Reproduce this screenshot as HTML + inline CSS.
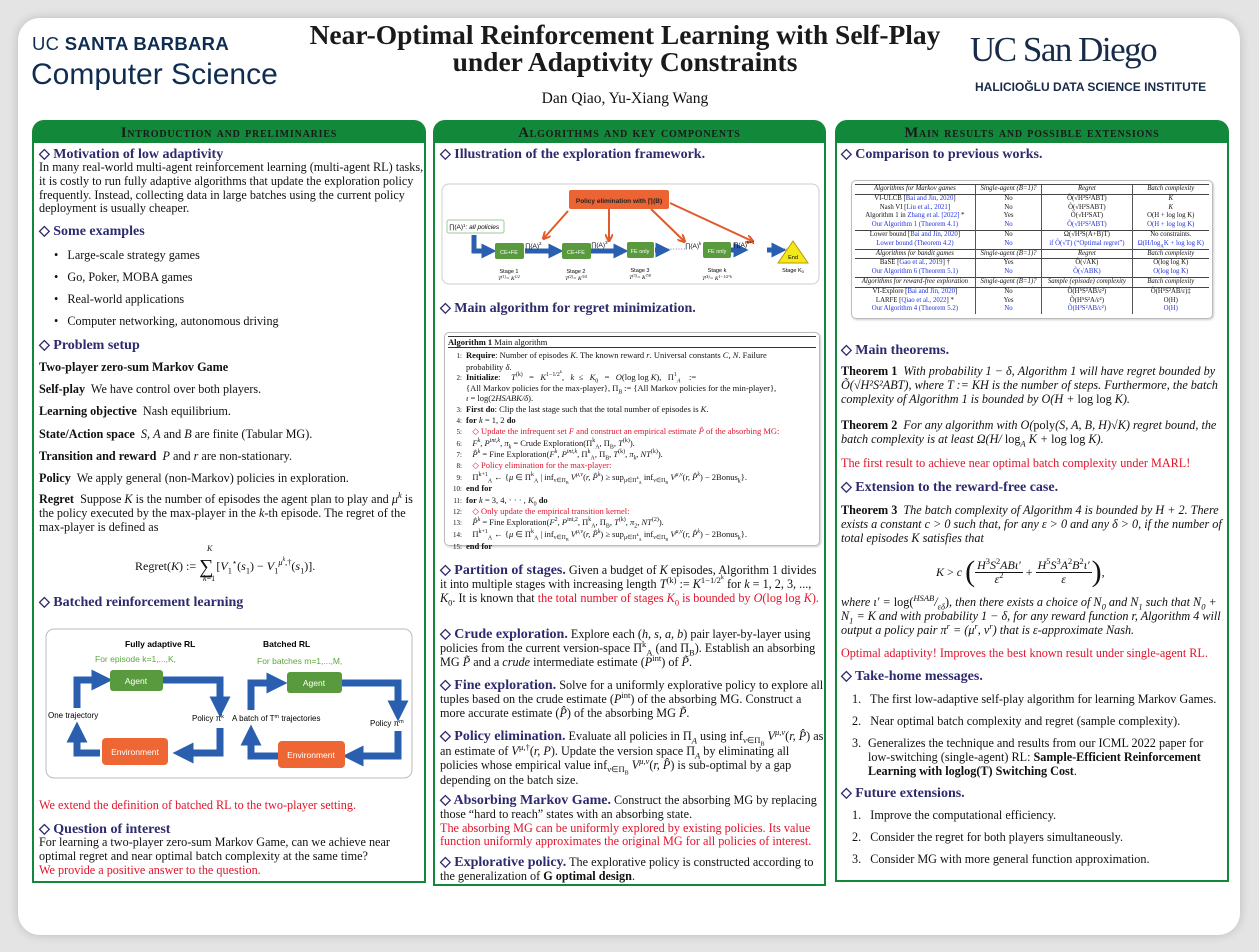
<!DOCTYPE html>
<html><head><meta charset="utf-8">
<style>
*{margin:0;padding:0;box-sizing:border-box}
body{width:1259px;height:952px;background:#e4e4e4;position:relative;overflow:hidden;font-family:"Liberation Serif",serif;color:#111}
sup,sub{line-height:0;font-size:70%}
.card{position:absolute;left:18px;top:18px;width:1222px;height:917px;background:#fff;border-radius:22px;box-shadow:0 0 10px rgba(0,0,0,.18)}
.a{position:absolute}
.col{position:absolute;top:120px;border:2px solid #11883a;border-radius:12px 12px 0 0}
.ch{position:absolute;left:0;right:0;top:0;height:21px;background:#11883a;border-radius:9px 9px 0 0;text-align:center;font-weight:bold;font-size:14.5px;line-height:22px;font-variant:small-caps;letter-spacing:.8px;color:#1a1a1a}
.h{position:absolute;font-weight:bold;font-size:14px;color:#2d2a6e;white-space:nowrap}
.p{position:absolute;font-size:12.2px;line-height:13.8px}
.r{color:#e2132b}
.b{color:#2233dd}
i{font-style:italic}
.hh{font-weight:bold;font-size:14px;color:#2d2a6e}
table{border-collapse:collapse;font-size:6.8px;width:100%}
td{padding:0 2px;text-align:center;line-height:8.8px;border-left:1px solid #555;white-space:nowrap}
td:first-child{border-left:none}
tr.hd td{font-style:italic;border-bottom:1px solid #444;border-top:1px solid #444}
.alg{font-size:8.5px;line-height:10.3px}
.alg div{white-space:nowrap}
.ln{display:inline-block;width:14px;text-align:right;margin-right:4px;font-size:7px}
</style></head><body>
<div class="card"></div>

<div class="a" style="left:32px;top:33px;font-family:'Liberation Sans',sans-serif;font-size:18.5px;color:#0f2d52;letter-spacing:.3px">UC <b>SANTA BARBARA</b></div>
<div class="a" style="left:31px;top:58px;font-family:'Liberation Sans',sans-serif;font-size:30px;color:#0f2d52">Computer Science</div>
<div class="a" style="left:240px;top:21px;width:770px;text-align:center;font-weight:bold;font-size:27.5px;line-height:27px;color:#1a1a1a">Near-Optimal Reinforcement Learning with Self-Play<br>under Adaptivity Constraints</div>
<div class="a" style="left:460px;top:90px;width:330px;text-align:center;font-size:15.5px">Dan Qiao, Yu-Xiang Wang</div>
<div class="a" style="left:970px;top:30px;font-family:'Liberation Serif',serif;font-size:35px;color:#182b49;letter-spacing:-1.5px">UC San Diego</div>
<div class="a" style="left:975px;top:80px;font-family:'Liberation Sans',sans-serif;font-weight:bold;font-size:12px;color:#182b49">HALICIOĞLU DATA SCIENCE INSTITUTE</div>

<!-- Column 1 -->
<div class="col" style="left:32px;width:394px;height:763px"><div class="ch">Introduction and preliminaries</div></div>
<div class="h" style="left:39px;top:146px">◇ Motivation of low adaptivity</div>
<div class="p" style="left:39px;top:161px;width:385px">In many real-world multi-agent reinforcement learning (multi-agent RL) tasks, it is costly to run fully adaptive algorithms that update the exploration policy frequently. Instead, collecting data in large batches using the current policy deployment is usually cheaper.</div>
<div class="h" style="left:39px;top:223px">◇ Some examples</div>
<div class="p" style="left:54px;top:249px">•&nbsp;&nbsp; Large-scale strategy games</div>
<div class="p" style="left:54px;top:271px">•&nbsp;&nbsp; Go, Poker, MOBA games</div>
<div class="p" style="left:54px;top:293px">•&nbsp;&nbsp; Real-world applications</div>
<div class="p" style="left:54px;top:315px">•&nbsp;&nbsp; Computer networking, autonomous driving</div>
<div class="h" style="left:39px;top:337px">◇ Problem setup</div>
<div class="p" style="left:39px;top:361px"><b>Two-player zero-sum Markov Game</b></div>
<div class="p" style="left:39px;top:383px"><b>Self-play</b>&nbsp; We have control over both players.</div>
<div class="p" style="left:39px;top:405px"><b>Learning objective</b>&nbsp; Nash equilibrium.</div>
<div class="p" style="left:39px;top:428px"><b>State/Action space</b>&nbsp; <i>S</i>, <i>A</i> and <i>B</i> are finite (Tabular MG).</div>
<div class="p" style="left:39px;top:450px"><b>Transition and reward</b>&nbsp; <i>P</i> and <i>r</i> are non-stationary.</div>
<div class="p" style="left:39px;top:472px"><b>Policy</b>&nbsp; We apply general (non-Markov) policies in exploration.</div>
<div class="p" style="left:39px;top:493px;width:385px"><b>Regret</b>&nbsp; Suppose <i>K</i> is the number of episodes the agent plan to play and <i>μ<sup>k</sup></i> is the policy executed by the max-player in the <i>k</i>-th episode. The regret of the max-player is defined as</div>
<div class="a" style="left:207px;top:544px;font-size:8px"><i>K</i></div>
<div class="a" style="left:135px;top:556px;font-size:12px;white-space:nowrap">Regret(<i>K</i>) := <span style="font-size:20px;vertical-align:-3px">∑</span> [<i>V</i><sub>1</sub><sup>⋆</sup>(<i>s</i><sub>1</sub>) − <i>V</i><sub>1</sub><sup><i>μ<sup>k</sup></i>,†</sup>(<i>s</i><sub>1</sub>)].</div>
<div class="a" style="left:203px;top:574px;font-size:8px"><i>k</i>=1</div>
<div class="h" style="left:39px;top:594px">◇ Batched reinforcement learning</div>
<svg class="a" style="left:45px;top:628px" width="368" height="151" viewBox="0 0 368 151">
<defs><marker id="m1" markerWidth="3" markerHeight="3" refX="1.5" refY="1.5" orient="auto"><path d="M0,0L3,1.5L0,3z" fill="#2a5fb0"/></marker></defs>
<rect x="1" y="1" width="366" height="149" rx="8" fill="#fff" stroke="#bbb"/>
<text x="80" y="19" font-family="Liberation Sans" font-weight="bold" font-size="8.5">Fully adaptive RL</text>
<text x="218" y="19" font-family="Liberation Sans" font-weight="bold" font-size="8.5">Batched RL</text>
<text x="50" y="34" font-family="Liberation Sans" font-size="8.5" fill="#5aa83a">For episode k=1,...,K,</text>
<text x="212" y="36" font-family="Liberation Sans" font-size="8.5" fill="#5aa83a">For batches m=1,...,M,</text>
<g fill="none" stroke="#2a5fb0" stroke-width="7" marker-end="url(#m1)">
<path d="M32,80V52H57"/><path d="M118,52H175V79"/><path d="M175,100V125H138"/><path d="M55,125H32V104"/>
<path d="M206,82V55H232"/><path d="M297,55H353V83"/><path d="M353,103V128H308"/><path d="M236,128H206V107"/>
</g>
<rect x="65" y="42" width="53" height="21" rx="3" fill="#5a9a3e"/><text x="91" y="56" text-anchor="middle" font-family="Liberation Sans" font-size="8.5" fill="#fff">Agent</text>
<rect x="57" y="110" width="66" height="27" rx="4" fill="#ee6633"/><text x="90" y="127" text-anchor="middle" font-family="Liberation Sans" font-size="8.5" fill="#fff">Environment</text>
<rect x="242" y="44" width="55" height="21" rx="3" fill="#5a9a3e"/><text x="269" y="58" text-anchor="middle" font-family="Liberation Sans" font-size="8.5" fill="#fff">Agent</text>
<rect x="233" y="113" width="67" height="27" rx="4" fill="#ee6633"/><text x="266" y="130" text-anchor="middle" font-family="Liberation Sans" font-size="8.5" fill="#fff">Environment</text>
<text x="3" y="90" font-family="Liberation Sans" font-size="8">One trajectory</text>
<text x="147" y="93" font-family="Liberation Sans" font-size="8">Policy π<tspan font-size="5.5" dy="-3">k</tspan></text>
<text x="187" y="93" font-family="Liberation Sans" font-size="8">A batch of T<tspan font-size="5.5" dy="-3">m</tspan><tspan dy="3"> trajectories</tspan></text>
<text x="325" y="98" font-family="Liberation Sans" font-size="8">Policy π<tspan font-size="5.5" dy="-3">m</tspan></text>
</svg>
<div class="p r" style="left:39px;top:799px">We extend the definition of batched RL to the two-player setting.</div>
<div class="h" style="left:39px;top:821px">◇ Question of interest</div>
<div class="p" style="left:39px;top:836px;width:385px">For learning a two-player zero-sum Markov Game, can we achieve near optimal regret and near optimal batch complexity at the same time?<br><span class="r">We provide a positive answer to the question.</span></div>

<!-- Column 2 -->
<div class="col" style="left:433px;width:393px;height:766px"><div class="ch">Algorithms and key components</div></div>
<div class="h" style="left:440px;top:146px">◇ Illustration of the exploration framework.</div>
<svg class="a" style="left:441px;top:183px" width="380" height="103" viewBox="0 0 380 103">
<defs><marker id="m2" markerWidth="3" markerHeight="3" refX="1.5" refY="1.5" orient="auto"><path d="M0,0L3,1.5L0,3z" fill="#2a5fb0"/></marker>
<marker id="m3" markerWidth="4" markerHeight="4" refX="3" refY="2" orient="auto"><path d="M0,0L4,2L0,4" fill="none" stroke="#e05a2a"/></marker></defs>
<rect x="1" y="1" width="377" height="100" rx="7" fill="#fff" stroke="#ccc"/>
<g stroke="#e05a2a" stroke-width="2" marker-end="url(#m3)" fill="none">
<path d="M127,28L103,55"/><path d="M168,26V57"/><path d="M210,26L243,58"/><path d="M229,20L311,58"/></g>
<rect x="128" y="7" width="100" height="19" rx="2" fill="#ec6434"/>
<text x="178" y="20" text-anchor="middle" font-family="Liberation Sans" font-weight="bold" font-size="6.5" fill="#222">Policy elimination with ∏(B)</text>
<rect x="6" y="37" width="57" height="13" rx="2" fill="#fff" stroke="#9c9"/>
<text x="8" y="46" font-family="Liberation Sans" font-size="6.5">∏(A)<tspan font-size="4.5" dy="-2">1</tspan><tspan dy="2" font-style="italic">: all policies</tspan></text>
<g stroke="#2a5fb0" stroke-width="5" fill="none" marker-end="url(#m2)">
<path d="M33,52V68H48"/><path d="M84,68H115"/><path d="M150,68H180"/><path d="M214,67H222"/><path d="M289,67H300"/><path d="M326,67H338"/></g>
<text x="226" y="69" font-size="8" fill="#2a5fb0">·······</text><text x="342" y="69" font-size="8" fill="#222">······</text>
<rect x="54" y="60" width="29" height="16" rx="2" fill="#5a9a3e"/><text x="68" y="71" text-anchor="middle" font-family="Liberation Sans" font-size="5.5" fill="#fff">CE+FE</text>
<rect x="121" y="60" width="29" height="16" rx="2" fill="#5a9a3e"/><text x="135" y="71" text-anchor="middle" font-family="Liberation Sans" font-size="5.5" fill="#fff">CE+FE</text>
<rect x="186" y="59" width="27" height="16" rx="2" fill="#5a9a3e"/><text x="199" y="70" text-anchor="middle" font-family="Liberation Sans" font-size="5.5" fill="#fff">FE only</text>
<rect x="262" y="59" width="28" height="16" rx="2" fill="#5a9a3e"/><text x="276" y="70" text-anchor="middle" font-family="Liberation Sans" font-size="5.5" fill="#fff">FE only</text>
<path d="M337,80L367,80L352,58z" fill="#f4e81a" stroke="#b99a00"/>
<text x="352" y="76" text-anchor="middle" font-family="Liberation Sans" font-size="5.5">End</text>
<g font-family="Liberation Sans" font-size="6.5"><text x="84" y="65">∏(A)<tspan font-size="4.5" dy="-3">2</tspan></text><text x="150" y="64">∏(A)<tspan font-size="4.5" dy="-3">3</tspan></text><text x="244" y="65">∏(A)<tspan font-size="4.5" dy="-3">k</tspan></text><text x="292" y="64">∏(A)<tspan font-size="4.5" dy="-3">k+1</tspan></text></g>
<g font-family="Liberation Sans" font-size="5.5" text-anchor="middle"><text x="68" y="90">Stage 1</text><text x="135" y="90">Stage 2</text><text x="199" y="89">Stage 3</text><text x="276" y="89">Stage k</text><text x="352" y="89">Stage K<tspan font-size="4" dy="1">0</tspan></text>
<text x="68" y="97" font-family="Liberation Serif" font-style="italic">T<tspan font-size="4" dy="-2">(1)</tspan><tspan dy="2">= K</tspan><tspan font-size="4" dy="-2">1/2</tspan></text><text x="135" y="97" font-family="Liberation Serif" font-style="italic">T<tspan font-size="4" dy="-2">(2)</tspan><tspan dy="2">= K</tspan><tspan font-size="4" dy="-2">3/4</tspan></text><text x="199" y="96" font-family="Liberation Serif" font-style="italic">T<tspan font-size="4" dy="-2">(3)</tspan><tspan dy="2">= K</tspan><tspan font-size="4" dy="-2">7/8</tspan></text><text x="276" y="97" font-family="Liberation Serif" font-style="italic">T<tspan font-size="4" dy="-2">(k)</tspan><tspan dy="2">= K</tspan><tspan font-size="4" dy="-2">1−1/2^k</tspan></text></g>
</svg>
<div class="h" style="left:440px;top:300px">◇ Main algorithm for regret minimization.</div>
<div class="a" style="left:444px;top:332px;width:376px;height:214px;border:1px solid #bbb;border-radius:5px;box-shadow:1px 1px 2px #ccc"></div>
<div class="a alg" style="left:448px;top:336px;width:368px">
<div style="border-top:1px solid #333;border-bottom:1px solid #333;margin-bottom:2px"><b>Algorithm 1</b> Main algorithm</div>
<div><span class="ln">1:</span><b>Require</b>: Number of episodes <i>K</i>. The known reward <i>r</i>. Universal constants <i>C, N</i>. Failure</div>
<div style="padding-left:18px">probability <i>δ</i>.</div>
<div><span class="ln">2:</span><b>Initialize</b>: &nbsp;&nbsp;&nbsp;&nbsp;<i>T</i><sup>(k)</sup> &nbsp;&nbsp;= &nbsp;&nbsp;<i>K</i><sup>1−1/2<sup>k</sup></sup>, &nbsp;&nbsp;<i>k</i> &nbsp;≤ &nbsp;&nbsp;<i>K</i><sub>0</sub> &nbsp;&nbsp;= &nbsp;&nbsp;<i>O</i>(log log <i>K</i>), &nbsp;&nbsp;Π<sup>1</sup><sub><i>A</i></sub> &nbsp;&nbsp;&nbsp;:=</div>
<div style="padding-left:18px">{All Markov policies for the max-player}, Π<sub><i>B</i></sub> := {All Markov policies for the min-player},</div>
<div style="padding-left:18px"><i>ι</i> = log(2<i>HSABK/δ</i>).</div>
<div><span class="ln">3:</span><b>First do</b>: Clip the last stage such that the total number of episodes is <i>K</i>.</div>
<div><span class="ln">4:</span><b>for</b> <i>k</i> = 1, 2 <b>do</b></div>
<div class="r"><span class="ln" style="color:#111">5:</span>&nbsp;&nbsp;&nbsp;◇ Update the infrequent set <i>F</i> and construct an empirical estimate <i>P̂</i> of the absorbing MG:</div>
<div><span class="ln">6:</span>&nbsp;&nbsp;&nbsp;<i>F<sup>k</sup>, P<sup>int,k</sup>, π<sub>k</sub></i> = Crude Exploration(Π<sup>k</sup><sub>A</sub>, Π<sub>B</sub>, <i>T</i><sup>(k)</sup>).</div>
<div><span class="ln">7:</span>&nbsp;&nbsp;&nbsp;<i>P̂<sup>k</sup></i> = Fine Exploration(<i>F<sup>k</sup>, P<sup>int,k</sup></i>, Π<sup>k</sup><sub>A</sub>, Π<sub>B</sub>, <i>T</i><sup>(k)</sup>, <i>π<sub>k</sub></i>, <i>NT</i><sup>(k)</sup>).</div>
<div class="r"><span class="ln" style="color:#111">8:</span>&nbsp;&nbsp;&nbsp;◇ Policy elimination for the max-player:</div>
<div><span class="ln">9:</span>&nbsp;&nbsp;&nbsp;Π<sup>k+1</sup><sub>A</sub> ← {<i>μ</i> ∈ Π<sup>k</sup><sub>A</sub> | inf<sub>ν∈Π<sub>B</sub></sub> <i>V<sup>μ,ν</sup></i>(<i>r, P̂<sup>k</sup></i>) ≥ sup<sub>μ∈Π<sup>k</sup><sub>A</sub></sub> inf<sub>ν∈Π<sub>B</sub></sub> <i>V<sup>μ,ν</sup></i>(<i>r, P̂<sup>k</sup></i>) − 2Bonus<sub>k</sub>}.</div>
<div><span class="ln">10:</span><b>end for</b></div>
<div><span class="ln">11:</span><b>for</b> <i>k</i> = 3, 4, · · · , <i>K</i><sub>0</sub> <b>do</b></div>
<div class="r"><span class="ln" style="color:#111">12:</span>&nbsp;&nbsp;&nbsp;◇ Only update the empirical transition kernel:</div>
<div><span class="ln">13:</span>&nbsp;&nbsp;&nbsp;<i>P̂<sup>k</sup></i> = Fine Exploration(<i>F</i><sup>2</sup>, <i>P</i><sup>int,2</sup>, Π<sup>k</sup><sub>A</sub>, Π<sub>B</sub>, <i>T</i><sup>(k)</sup>, <i>π</i><sub>2</sub>, <i>NT</i><sup>(2)</sup>).</div>
<div><span class="ln">14:</span>&nbsp;&nbsp;&nbsp;Π<sup>k+1</sup><sub>A</sub> ← {<i>μ</i> ∈ Π<sup>k</sup><sub>A</sub> | inf<sub>ν∈Π<sub>B</sub></sub> <i>V<sup>μ,ν</sup></i>(<i>r, P̂<sup>k</sup></i>) ≥ sup<sub>μ∈Π<sup>k</sup><sub>A</sub></sub> inf<sub>ν∈Π<sub>B</sub></sub> <i>V<sup>μ,ν</sup></i>(<i>r, P̂<sup>k</sup></i>) − 2Bonus<sub>k</sub>}.</div>
<div><span class="ln">15:</span><b>end for</b></div>
</div>
<div class="p" style="left:440px;top:564px;width:384px"><span class="hh">◇ Partition of stages.</span> Given a budget of <i>K</i> episodes, Algorithm 1 divides it into multiple stages with increasing length <i>T</i><sup>(k)</sup> := <i>K</i><sup>1−1/2<sup>k</sup></sup> for <i>k</i> = 1, 2, 3, ..., <i>K</i><sub>0</sub>. It is known that <span class="r">the total number of stages <i>K</i><sub>0</sub> is bounded by <i>O</i>(log log <i>K</i>).</span></div>
<div class="p" style="left:440px;top:628px;width:384px"><span class="hh">◇ Crude exploration.</span> Explore each (<i>h, s, a, b</i>) pair layer-by-layer using policies from the current version-space Π<sup>k</sup><sub>A</sub> (and Π<sub>B</sub>). Establish an absorbing MG <i>P̃</i> and a <i>crude</i> intermediate estimate (<i>P</i><sup>int</sup>) of <i>P̃</i>.</div>
<div class="p" style="left:440px;top:679px;width:384px"><span class="hh">◇ Fine exploration.</span> Solve for a uniformly explorative policy to explore all tuples based on the crude estimate (<i>P</i><sup>int</sup>) of the absorbing MG. Construct a more accurate estimate (<i>P̂</i>) of the absorbing MG <i>P̃</i>.</div>
<div class="p" style="left:440px;top:730px;width:384px"><span class="hh">◇ Policy elimination.</span> Evaluate all policies in Π<sub><i>A</i></sub> using inf<sub>ν∈Π<sub>B</sub></sub> <i>V<sup>μ,ν</sup></i>(<i>r, P̂</i>) as an estimate of <i>V</i><sup>μ,†</sup>(<i>r, P</i>). Update the version space Π<sub><i>A</i></sub> by eliminating all policies whose empirical value inf<sub>ν∈Π<sub>B</sub></sub> <i>V<sup>μ,ν</sup></i>(<i>r, P̂</i>) is sub-optimal by a gap depending on the batch size.</div>
<div class="p" style="left:440px;top:794px;width:384px"><span class="hh">◇ Absorbing Markov Game.</span> Construct the absorbing MG by replacing those “hard to reach” states with an absorbing state.<br><span class="r">The absorbing MG can be uniformly explored by existing policies. Its value function uniformly approximates the original MG for all policies of interest.</span></div>
<div class="p" style="left:440px;top:856px;width:384px"><span class="hh">◇ Explorative policy.</span> The explorative policy is constructed according to the generalization of <b>G optimal design</b>.</div>

<!-- Column 3 -->
<div class="col" style="left:835px;width:394px;height:762px"><div class="ch">Main results and possible extensions</div></div>
<div class="h" style="left:841px;top:146px">◇ Comparison to previous works.</div>
<div class="a" style="left:851px;top:180px;width:362px;height:139px;border:1px solid #bbb;border-radius:5px;box-shadow:1px 1px 2px #ccc"></div>
<div class="a" style="left:855px;top:184px;width:354px">
<table>
<tr class="hd"><td>Algorithms for Markov games</td><td>Single-agent (B=1)?</td><td>Regret</td><td>Batch complexity</td></tr>
<tr><td>VI-ULCB [<span class="b">Bai and Jin, 2020</span>]</td><td>No</td><td>Õ(√H³S²ABT)</td><td><i>K</i></td></tr>
<tr><td>Nash VI [<span class="b">Liu et al., 2021</span>]</td><td>No</td><td>Õ(√H²SABT)</td><td><i>K</i></td></tr>
<tr><td>Algorithm 1 in <span class="b">Zhang et al. [2022]</span> *</td><td>Yes</td><td>Õ(√H²SAT)</td><td>O(H + log log K)</td></tr>
<tr class="b" style="border-bottom:1px solid #444"><td>Our Algorithm 1 (Theorem 4.1)</td><td>No</td><td>Õ(√H²S²ABT)</td><td>O(H + log log K)</td></tr>
<tr><td>Lower bound [<span class="b">Bai and Jin, 2020</span>]</td><td>No</td><td>Ω(√H²S(A+B)T)</td><td>No constraints.</td></tr>
<tr class="b"><td>Lower bound (Theorem 4.2)</td><td>No</td><td>if Õ(√T) (“Optimal regret”)</td><td>Ω(H/log<sub>A</sub>K + log log K)</td></tr>
<tr class="hd"><td>Algorithms for bandit games</td><td>Single-agent (B=1)?</td><td>Regret</td><td>Batch complexity</td></tr>
<tr><td>BaSE [<span class="b">Gao et al., 2019</span>] †</td><td>Yes</td><td>Õ(√AK)</td><td>O(log log K)</td></tr>
<tr class="b"><td>Our Algorithm 6 (Theorem 5.1)</td><td>No</td><td>Õ(√ABK)</td><td>O(log log K)</td></tr>
<tr class="hd"><td>Algorithms for reward-free exploration</td><td>Single-agent (B=1)?</td><td>Sample (episode) complexity</td><td>Batch complexity</td></tr>
<tr><td>VI-Explore [<span class="b">Bai and Jin, 2020</span>]</td><td>No</td><td>Õ(H⁵S²AB/ε²)</td><td>Õ(H⁵S²AB/ε)‡</td></tr>
<tr><td>LARFE [<span class="b">Qiao et al., 2022</span>] *</td><td>Yes</td><td>Õ(H⁵S²A/ε²)</td><td>O(H)</td></tr>
<tr class="b"><td>Our Algorithm 4 (Theorem 5.2)</td><td>No</td><td>Õ(H³S²AB/ε²)</td><td>O(H)</td></tr>
</table></div>
<div class="h" style="left:841px;top:342px">◇ Main theorems.</div>
<div class="p" style="left:841px;top:365px;width:384px"><b>Theorem 1</b>&nbsp; <i>With probability 1 − δ, Algorithm 1 will have regret bounded by Õ(√H²S²ABT), where T := KH is the number of steps. Furthermore, the batch complexity of Algorithm 1 is bounded by O(H + </i>log log <i>K).</i></div>
<div class="p" style="left:841px;top:419px;width:384px"><b>Theorem 2</b>&nbsp; <i>For any algorithm with O(</i>poly<i>(S, A, B, H)√K) regret bound, the batch complexity is at least Ω(H/</i> log<sub><i>A</i></sub> <i>K + </i>log log <i>K).</i></div>
<div class="p r" style="left:841px;top:457px">The first result to achieve near optimal batch complexity under MARL!</div>
<div class="h" style="left:841px;top:479px">◇ Extension to the reward-free case.</div>
<div class="p" style="left:841px;top:504px;width:384px"><b>Theorem 3</b>&nbsp; <i>The batch complexity of Algorithm 4 is bounded by H + 2. There exists a constant c &gt; 0 such that, for any ε &gt; 0 and any δ &gt; 0, if the number of total episodes K satisfies that</i></div>
<div class="a" style="left:936px;top:555px;font-size:12px;display:flex;align-items:center"><i>K</i>&nbsp;&gt;&nbsp;<i>c</i>&nbsp;<span style="font-size:30px;font-weight:100">(</span>
<span style="display:inline-block;text-align:center;line-height:13px"><span style="display:block;border-bottom:1px solid #111;padding:0 2px"><i>H</i><sup>3</sup><i>S</i><sup>2</sup><i>ABι′</i></span><i>ε</i><sup>2</sup></span>&nbsp;+&nbsp;<span style="display:inline-block;text-align:center;line-height:13px"><span style="display:block;border-bottom:1px solid #111;padding:0 2px"><i>H</i><sup>5</sup><i>S</i><sup>3</sup><i>A</i><sup>2</sup><i>B</i><sup>2</sup><i>ι′</i></span><i>ε</i></span><span style="font-size:30px;font-weight:100">)</span>,</div>
<div class="p" style="left:841px;top:596px;width:384px"><i>where ι′ = </i>log(<i><sup>HSAB</sup>/<sub>εδ</sub></i>)<i>, then there exists a choice of N<sub>0</sub> and N<sub>1</sub> such that N<sub>0</sub> + N<sub>1</sub> = K and with probability 1 − δ, for any reward function r, Algorithm 4 will output a policy pair π<sup>r</sup> = (μ<sup>r</sup>, ν<sup>r</sup>) that is ε-approximate Nash.</i></div>
<div class="p r" style="left:841px;top:647px">Optimal adaptivity! Improves the best known result under single-agent RL.</div>
<div class="h" style="left:841px;top:668px">◇ Take-home messages.</div>
<div class="p" style="left:852px;top:693px">1.&nbsp;&nbsp; The first low-adaptive self-play algorithm for learning Markov Games.</div>
<div class="p" style="left:852px;top:715px">2.&nbsp;&nbsp; Near optimal batch complexity and regret (sample complexity).</div>
<div class="p" style="left:852px;top:737px">3.</div>
<div class="p" style="left:868px;top:737px;width:355px">Generalizes the technique and results from our ICML 2022 paper for low-switching (single-agent) RL: <b>Sample-Efficient Reinforcement Learning with loglog(T) Switching Cost</b>.</div>
<div class="h" style="left:841px;top:785px">◇ Future extensions.</div>
<div class="p" style="left:852px;top:809px">1.&nbsp;&nbsp; Improve the computational efficiency.</div>
<div class="p" style="left:852px;top:831px">2.&nbsp;&nbsp; Consider the regret for both players simultaneously.</div>
<div class="p" style="left:852px;top:853px">3.&nbsp;&nbsp; Consider MG with more general function approximation.</div>
</body></html>
